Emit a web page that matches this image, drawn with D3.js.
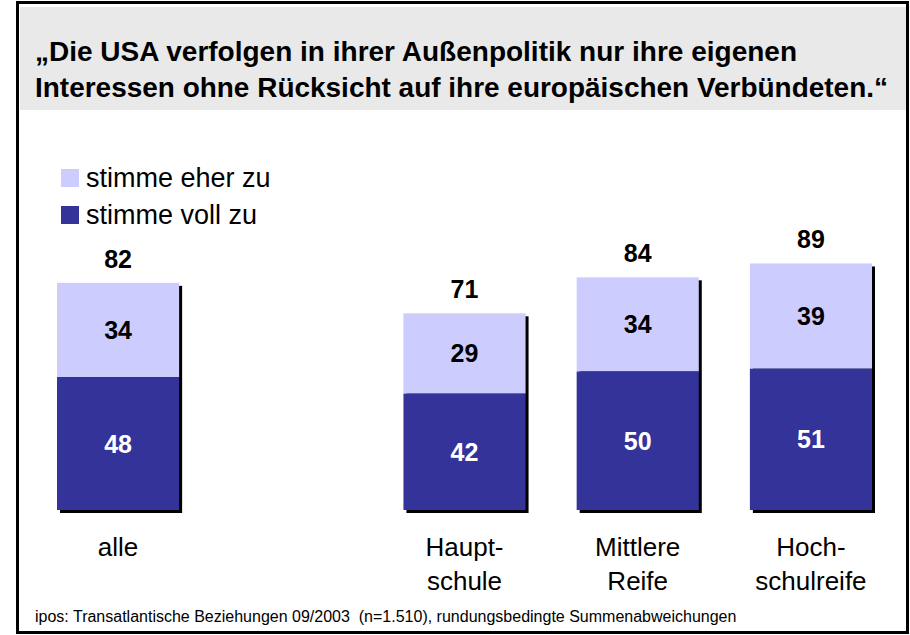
<!DOCTYPE html>
<html lang="de">
    <head>
        <meta charset="utf-8">
        <title>Außenpolitik der USA</title>
        <script type="text/javascript" src="https://d3js.org/d3.v7.min.js"></script>
        <style>
            body { margin: 0; background: white; }
            text { font-family: Arial, "Liberation Sans", sans-serif; }
            .title { font-weight: bold; font-size: 27px; fill: black; }
            .legendText { font-size: 27px; fill: black; }
            .catLabel { font-size: 26px; fill: black; text-anchor: middle; }
            .valLabel { font-weight: bold; font-size: 25px; text-anchor: middle; }
            .footer { font-size: 16px; fill: black; white-space: pre; }
        </style>
    </head>
    <body>
        <div id="svgContainer"></div>
        <script type="text/javascript">
            //set svg size
            let w = 910;
            let h = 635;

            //data
            let categories = ["alle", "spacer", "Hauptschule", "Mittlere Reife", "Hochschulreife"];
            let catLines = [["alle"], [], ["Haupt-", "schule"], ["Mittlere", "Reife"], ["Hoch-", "schulreife"]];
            let vollZu = [48, null, 42, 50, 51];
            let eherZu = [34, null, 29, 34, 39];
            let totals = [82, null, 71, 84, 89];
            let seriesNames = ["stimme eher zu", "stimme voll zu"];
            let titleLines = ["\u201EDie USA verfolgen in ihrer Außenpolitik nur ihre eigenen",
                              "Interessen ohne Rücksicht auf ihre europäischen Verbündeten.\u201C"];
            let titleWidths = [762, 853];
            let footerText = "ipos: Transatlantische Beziehungen 09/2003  (n=1.510), rundungsbedingte Summenabweichungen";

            let colLight = "#ccccff";
            let colDark = "#333399";

            let dataset = categories.map((c, i) => ({
                cat: c, lines: catLines[i], voll: vollZu[i], eher: eherZu[i], total: totals[i]
            })).filter(d => d.voll !== null);

            let xScale = d3.scaleBand()
                        .domain(categories)
                        .range([57, 872])
                        .paddingInner(0.295)
                        .paddingOuter(0);

            let yScale = d3.scaleLinear()
                        .domain([0, 100])
                        .range([510, 233]);

            let svg = d3.select("#svgContainer")
                        .append("svg")
                        .attr("width", w)
                        .attr("height", h);

            //outer frame and title box
            svg.append("rect")
                .attr("x", 17.5).attr("y", 2.5)
                .attr("width", 890).attr("height", 630)
                .attr("fill", "white")
                .attr("stroke", "black")
                .attr("stroke-width", 3);

            svg.append("rect")
                .attr("x", 20).attr("y", 7)
                .attr("width", 886).attr("height", 103)
                .attr("fill", "#e9e9e9");

            svg.selectAll(".title")
                .data(titleLines)
                .enter()
                .append("text")
                .attr("class", "title")
                .attr("x", 35)
                .attr("y", (d, i) => 61 + i * 36)
                .attr("textLength", (d, i) => titleWidths[i])
                .attr("lengthAdjust", "spacingAndGlyphs")
                .text(d => d);

            //legend
            let legend = svg.selectAll(".legend")
                .data(seriesNames)
                .enter()
                .append("g")
                .attr("transform", (d, i) => `translate(61, ${169 + i * 37})`);

            legend.append("rect")
                .attr("width", 18).attr("height", 18)
                .attr("fill", (d, i) => i === 0 ? colLight : colDark);

            legend.append("text")
                .attr("class", "legendText")
                .attr("x", 25)
                .attr("y", 18)
                .text(d => d);

            let bars = svg.selectAll(".bar")
                .data(dataset)
                .enter()
                .append("g")
                .attr("class", "bar");

            //shadow
            bars.append("rect")
                .attr("x", d => xScale(d.cat) + 3)
                .attr("y", d => yScale(d.total) + 3)
                .attr("width", xScale.bandwidth())
                .attr("height", d => yScale(0) - yScale(d.total))
                .attr("fill", "black");

            bars.append("rect")
                .attr("x", d => xScale(d.cat))
                .attr("y", d => yScale(d.total))
                .attr("width", xScale.bandwidth())
                .attr("height", d => yScale(d.voll) - yScale(d.total))
                .attr("fill", colLight);

            bars.append("rect")
                .attr("x", d => xScale(d.cat))
                .attr("y", d => yScale(d.voll))
                .attr("width", xScale.bandwidth())
                .attr("height", d => yScale(0) - yScale(d.voll))
                .attr("fill", colDark);

            let cx = d => xScale(d.cat) + xScale.bandwidth() / 2;

            bars.append("text")
                .attr("class", "valLabel")
                .attr("x", cx)
                .attr("y", d => yScale(d.total) - 15)
                .attr("fill", "black")
                .text(d => d.total);

            bars.append("text")
                .attr("class", "valLabel")
                .attr("x", cx)
                .attr("y", d => (yScale(d.total) + yScale(d.voll)) / 2 + 9)
                .attr("fill", "black")
                .text(d => d.eher);

            bars.append("text")
                .attr("class", "valLabel")
                .attr("x", cx)
                .attr("y", d => (yScale(d.voll) + yScale(0)) / 2 + 9)
                .attr("fill", "white")
                .text(d => d.voll);

            //category labels
            bars.each(function(d) {
                d3.select(this).selectAll(".catLabel")
                    .data(d.lines)
                    .enter()
                    .append("text")
                    .attr("class", "catLabel")
                    .attr("x", cx(d))
                    .attr("y", (l, i) => 556 + i * 34)
                    .text(l => l);
            });

            svg.append("text")
                .attr("class", "footer")
                .attr("x", 35)
                .attr("y", 622)
                .text(footerText);
        </script>
    </body>
</html>
